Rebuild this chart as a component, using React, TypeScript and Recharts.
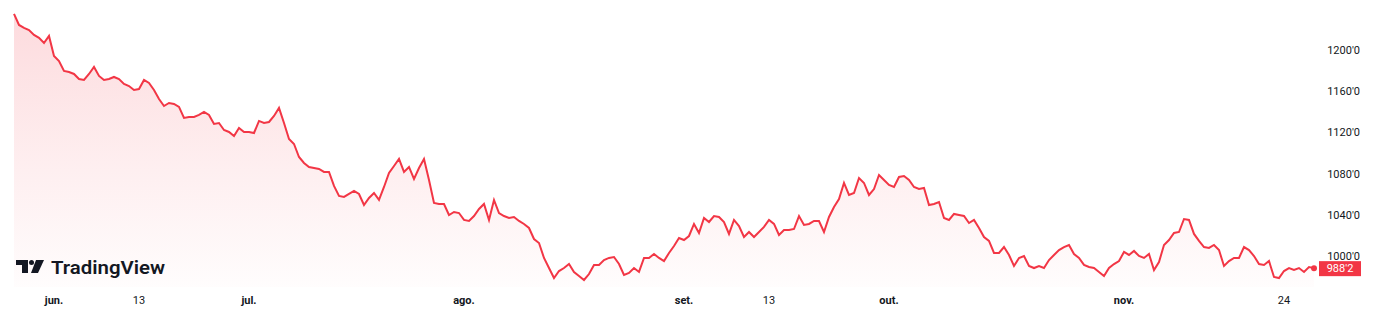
import { AreaChart, Area, XAxis, YAxis } from 'recharts'

// hourly-ish closes, split by month
const MAI = [1235.0, 1224.3, 1221.4, 1219.4, 1214.6, 1211.7, 1206.8, 1213.6]
const JUN = [
  1194.2, 1189.3, 1179.6, 1178.6, 1176.7, 1171.8, 1170.9, 1176.7, 1183.5, 1174.8,
  1170.9, 1171.8, 1173.8, 1171.8, 1167.0, 1165.0, 1161.2, 1162.1, 1170.9, 1168.0,
  1161.2, 1152.4, 1145.6, 1148.5, 1147.6, 1144.7, 1134.0, 1135.0, 1135.0, 1136.9,
  1139.8, 1136.9, 1128.2, 1129.1, 1122.3, 1120.4, 1116.5, 1124.3, 1120.4,
]
const JUL = [
  1120.4, 1119.4, 1131.1, 1129.1, 1130.1, 1135.9, 1143.7, 1129.1, 1113.6, 1108.7,
  1096.1, 1090.3, 1086.4, 1085.4, 1084.5, 1081.6, 1081.6, 1068.0, 1058.3, 1057.3,
  1060.2, 1063.1, 1060.2, 1049.5, 1056.3, 1061.2, 1054.4, 1067.0, 1080.6, 1087.4,
  1094.2, 1081.6, 1086.4, 1074.8, 1085.4, 1094.2, 1073.8, 1051.5, 1050.5, 1050.5,
  1039.8, 1042.7, 1041.7,
]
const AGO = [
  1035.0, 1034.0, 1038.8, 1045.6, 1050.5, 1035.0, 1054.4, 1041.7, 1038.8, 1036.9,
  1037.9, 1034.0, 1031.1, 1027.2, 1016.5, 1012.6, 998.1, 988.3, 978.6, 985.4,
  988.3, 992.2, 984.5, 980.6, 976.7, 982.5, 991.3, 991.3, 996.1, 998.1,
  999.0, 992.2, 981.6, 983.5, 988.3, 984.5, 998.1, 998.1, 1001.9, 998.1,
  995.1, 1002.9, 1009.7, 1017.5,
]
const SET = [
  1015.5, 1019.4, 1031.1, 1022.3, 1036.9, 1033.0, 1038.8, 1037.9, 1033.0, 1021.4,
  1035.0, 1029.1, 1018.4, 1023.3, 1018.4, 1023.3, 1028.2, 1035.0, 1031.1, 1020.4,
  1025.2, 1025.2, 1026.2, 1038.8, 1030.1, 1031.1, 1034.0, 1034.0, 1023.3, 1037.9,
  1047.6, 1055.3, 1070.9, 1059.2, 1061.2, 1075.7, 1070.9, 1059.2, 1065.0, 1078.6,
  1073.8,
]
const OUT = [
  1068.9, 1067.0, 1076.7, 1077.7, 1073.8, 1067.0, 1065.0, 1066.0, 1049.5, 1050.5,
  1052.4, 1036.9, 1035.0, 1040.8, 1039.8, 1038.8, 1032.0, 1035.0, 1027.2, 1018.4,
  1014.6, 1002.9, 1002.9, 1008.7, 1001.0, 990.3, 998.1, 1000.0, 990.3, 988.3,
  990.3, 988.3, 996.1, 1001.0, 1005.8, 1008.7, 1010.7, 1001.9, 998.1, 991.3,
  989.3, 988.3, 984.5, 980.6, 988.3, 992.2, 995.1,
]
const NOV = [
  1003.9, 1001.0, 1004.9, 1000.0, 998.1, 1001.9, 986.4, 994.2, 1010.7, 1015.5,
  1022.3, 1023.3, 1035.9, 1035.0, 1021.4, 1014.6, 1008.7, 1007.8, 1010.7, 1005.8,
  990.3, 995.1, 998.1, 998.1, 1008.7, 1005.8, 1000.0, 992.2, 991.3, 995.1,
  979.6, 978.6, 985.4, 988.3, 986.4, 988.3, 984.5, 989.3, 988.2,
]

const MONTHS = [MAI, JUN, JUL, AGO, SET, OUT, NOV]
const MONTH_LABELS = ['', 'jun.', 'jul.', 'ago.', 'set.', 'out.', 'nov.']
// day ticks inside a month: [month index, bars into month, label]
const DAY_TICKS: [number, number, string][] = [
  [1, 17, '13'],
  [4, 17, '13'],
  [6, 32, '24'],
]
const PRICE_TICKS = [1000, 1040, 1080, 1120, 1160, 1200]

const RED = '#f23645'
const TEXT = '#131722'
const FONT = 'Roboto, "Open Sans", sans-serif'

const PRICES = MONTHS.flat()
const LAST = PRICES[PRICES.length - 1]
const data = PRICES.map((price, i) => ({ i, price }))

const monthStart: number[] = []
MONTHS.reduce((acc, m) => {
  monthStart.push(acc)
  return acc + m.length
}, 0)

const tickLabel = new Map<number, { text: string; bold: boolean }>()
MONTH_LABELS.forEach((label, m) => {
  if (label) tickLabel.set(monthStart[m], { text: label, bold: true })
})
DAY_TICKS.forEach(([m, off, label]) => tickLabel.set(monthStart[m] + off, { text: label, bold: false }))
const X_TICKS = [...tickLabel.keys()].sort((a, b) => a - b)

const fmt = (v: number) => v.toFixed(1).replace('.', "'")

function TimeTick(props: any) {
  const { x, payload } = props
  const t = tickLabel.get(payload.value)
  if (!t) return <g />
  return (
    <text x={x} y={304} textAnchor="middle" fill={TEXT} fontSize={11} fontFamily={FONT} fontWeight={t.bold ? 700 : 400}>
      {t.text}
    </text>
  )
}

function PriceTick(props: any) {
  const { x, y, payload } = props
  if (payload.value === LAST) {
    return (
      <g>
        <rect x={x - 3} y={y - 7} width={42} height={15} fill={RED} />
        <text x={x + 18} y={y + 4} textAnchor="middle" fill="#fff" fontSize={11} fontFamily={FONT}>
          {fmt(payload.value)}
        </text>
      </g>
    )
  }
  return (
    <text x={x + 38} y={y + 4} textAnchor="end" fill={TEXT} fontSize={11} fontFamily={FONT}>
      {fmt(payload.value)}
    </text>
  )
}

function EndDot(props: any) {
  const { cx, cy, index } = props
  if (index !== PRICES.length - 1) return <g key={index} />
  return <circle key={index} cx={cx} cy={cy} r={3} fill={RED} />
}

function Logo() {
  return (
    <svg width={180} height={24} style={{ position: 'absolute', left: 14, top: 255 }}>
      <path d="M2 5 H14 V18 H8 V10 H2 Z" fill={TEXT} />
      <circle cx={17.5} cy={7.5} r={2.5} fill={TEXT} />
      <path d="M22 5 H30 L24 18 H17 Z" fill={TEXT} />
      <text x={37} y={19} fill={TEXT} fontSize={19} fontWeight={600} fontFamily={FONT} textLength={114} lengthAdjust="spacingAndGlyphs">
        TradingView
      </text>
    </svg>
  )
}

export default function App() {
  return (
    <div style={{ position: 'absolute', left: 0, top: 0, width: 1400, height: 328, background: '#fff' }}>
      <AreaChart width={1400} height={328} data={data} margin={{ top: 0, right: 0, bottom: 0, left: 14 }}>
        <defs>
          <linearGradient id="areaFill" x1="0" y1="0" x2="0" y2="1">
            <stop offset="0%" stopColor={RED} stopOpacity={0.3} />
            <stop offset="55%" stopColor={RED} stopOpacity={0.14} />
            <stop offset="100%" stopColor={RED} stopOpacity={0.02} />
          </linearGradient>
        </defs>
        <XAxis
          dataKey="i"
          type="number"
          domain={[0, PRICES.length - 1]}
          ticks={X_TICKS}
          tick={<TimeTick />}
          axisLine={false}
          tickLine={false}
          height={41}
          interval={0}
        />
        <YAxis
          orientation="right"
          domain={[969.9, 1248.5]}
          ticks={[...PRICE_TICKS, LAST]}
          tick={<PriceTick />}
          axisLine={false}
          tickLine={false}
          width={86}
          interval={0}
          allowDataOverflow
        />
        <Area
          type="linear"
          dataKey="price"
          stroke={RED}
          strokeWidth={2}
          fill="url(#areaFill)"
          dot={<EndDot />}
          activeDot={false}
          isAnimationActive={false}
        />
      </AreaChart>
      <Logo />
    </div>
  )
}
